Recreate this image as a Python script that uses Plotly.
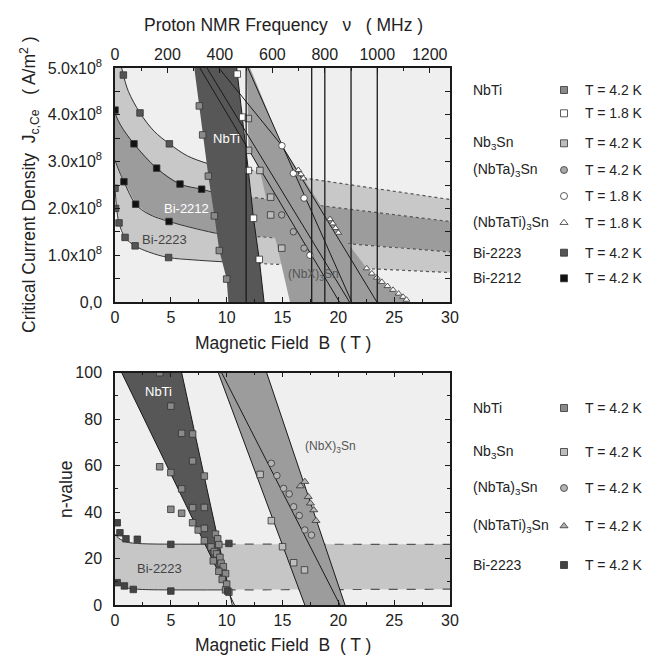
import plotly.graph_objects as go

W, H = 649, 657
JS = 1e8            # J values below are in units of 1e8 A/m^2
GAMMA = 42.577      # proton NMR MHz per tesla
FONT = "Liberation Sans, Arial, sans-serif"

# ---------------- Top panel: critical current density ----------------
# Bi tape boundary curves (solid part) and the far end of their dotted extension
c1_B = [0.6, 0.75, 1.2, 2.24, 3.5, 4.87, 6.5, 8.4]
c1_J = [5.0, 4.85, 4.5, 4.04, 3.65, 3.38, 3.12, 2.95]
c1_end = 2.19
c2_B = [0.0, 0.5, 1.7, 3.73, 5.82, 7.76, 8.8]
c2_J = [4.03, 3.78, 3.38, 2.86, 2.52, 2.41, 2.34]
c2_end = 1.72
c3_B = [0.0, 0.4, 0.8, 1.85, 3.0, 4.84, 7.0, 9.0]
c3_J = [3.03, 2.78, 2.57, 2.09, 1.88, 1.72, 1.58, 1.47]
c3_end = 1.07
c4_B = [0.0, 0.15, 0.36, 0.9, 1.8, 3.0, 4.8, 7.0, 9.6]
c4_J = [2.46, 2.0, 1.69, 1.38, 1.2, 1.07, 0.95, 0.9, 0.86]
c4_end = 0.63
B_MAX = 30

# NbTi band edges
nbti_left_B = [7.1, 7.55, 7.85, 8.36, 8.9, 9.34, 10.0, 10.15]
nbti_left_J = [5.0, 4.19, 3.57, 2.69, 1.84, 1.1, 0.49, 0.0]
nbti_right_B = [10.9, 11.43, 11.94, 12.4, 12.92, 13.35]
nbti_right_J = [5.0, 3.95, 2.81, 1.79, 0.91, 0.0]

# (NbX)3Sn band edges
nbx_left_B = [11.8, 11.95, 13.0, 15.67]
nbx_left_J = [5.0, 3.3, 2.78, 0.0]
nbx_right_B = [12.1, 14.95, 16.42, 19.25, 22.54, 24.4, 26.1, 26.3]
nbx_right_J = [5.0, 3.34, 2.82, 1.77, 0.72, 0.34, 0.05, 0.0]

# fit lines (B, J)
fit_lines = [
    ([7.6, 20.1], [5.0, 0.0]),
    ([8.24, 21.0], [5.0, 0.0]),
    ([9.3, 14.95, 23.45], [5.0, 3.34, 0.0]),
    ([11.9, 21.2], [5.0, 0.0]),
]

# NMR magnet frequencies (MHz)
nmr_freqs = [500, 750, 800, 900, 1000]

# measured points
nbti42_B = [7.55, 7.85, 8.36, 8.9, 9.34, 10.0]
nbti42_J = [4.19, 3.57, 2.69, 1.84, 1.1, 0.49]
nbti18_B = [10.95, 11.43, 11.94, 12.4, 12.92]
nbti18_J = [4.87, 3.95, 2.81, 1.79, 0.91]
nb3sn42_B = [11.94, 11.96, 12.98, 13.94, 13.94, 14.93]
nb3sn42_J = [3.92, 3.24, 2.81, 2.24, 1.86, 1.15]
nbta42_B = [14.93, 15.97, 16.93]
nbta42_J = [1.86, 1.5, 1.15]
nbta18_B = [14.95, 15.97, 16.93, 17.46]
nbta18_J = [3.34, 2.75, 2.22, 1.0]
nbtati18_B = [16.42, 16.65, 16.87, 19.25, 19.5, 19.75, 20.0, 22.54, 23.0, 23.45,
              23.9, 24.4, 24.9, 25.4, 25.8, 26.1]
nbtati18_J = [2.82, 2.73, 2.64, 1.77, 1.68, 1.58, 1.48, 0.72, 0.61, 0.52,
              0.43, 0.34, 0.26, 0.18, 0.11, 0.05]
bi2223_B = [0.75, 2.24, 4.87, 0.0, 0.05, 0.36, 0.9, 1.8, 4.8]
bi2223_J = [4.85, 4.04, 3.38, 2.43, 2.0, 1.69, 1.38, 1.2, 0.95]
bi2212_B = [0.0, 1.7, 3.73, 5.82, 7.76, 0.8, 1.85, 4.84]
bi2212_J = [4.1, 3.38, 2.86, 2.52, 2.41, 2.57, 2.09, 1.72]

# ---------------- Bottom panel: n-value ----------------
n_nbti_band_B = [0.6, 5.97, 10.34]
n_nbti_band_n = [100, 100, 3.6]
n_nbti_edges = [([0.6, 10.7], [100, 0]), ([5.97, 10.5], [100, 0])]
n_nbx_band_B = [9.25, 13.58, 20.6, 17.0]
n_nbx_band_n = [100, 100, 0, 0]
n_nbx_lines = [([9.25, 17.0], [100, 0]), ([9.55, 20.15], [100, 0]), ([13.58, 20.6], [100, 0])]
n_bi_B = [0.0, 0.3, 0.7, 1.2, 2.0, 3.0, 5.0, 10.0]
n_bi_upper = [30.5, 28.9, 27.7, 26.9, 26.5, 26.3, 26.2, 26.2]
n_bi_lower = [10.0, 8.9, 7.9, 7.2, 6.8, 6.6, 6.5, 6.5]
n_bi_upper_end = 26.1
n_bi_lower_end = 6.8

nn_nbti_B = [4.0, 5.0, 5.97, 6.95, 6.95, 5.97, 5.0, 4.0, 5.0, 5.97, 6.95, 6.95, 7.45,
             8.0, 8.0, 8.0, 8.0, 9.0, 9.2, 9.3, 8.6, 8.9, 9.1, 9.4, 8.8, 9.5, 9.7,
             9.3, 9.9, 9.6, 10.0, 9.9, 10.2]
nn_nbti_n = [100, 85.6, 73.9, 73.6, 62, 50, 57, 59.5, 41.2, 39.5, 41.9, 35.4, 32.3,
             55.5, 42, 33, 27.7, 30.5, 28.5, 26, 25, 23, 22, 20.5, 19, 18, 16.5,
             14.5, 13.5, 11, 9, 6.5, 5.5]
nn_nb3sn_B = [13.0, 14.0, 15.0, 16.0, 16.97]
nn_nb3sn_n = [56.2, 36.3, 25.1, 18.2, 15.1]
nn_nbta_B = [14.0, 14.5, 15.1, 15.6, 16.0, 16.5, 17.0, 17.6]
nn_nbta_n = [61, 55.7, 50.2, 47.8, 42.3, 38.5, 32.3, 30.1]
nn_nbtati_B = [16.6, 17.0, 17.3, 17.5, 17.8, 18.0]
nn_nbtati_n = [51.2, 53.1, 46.6, 43.8, 40.9, 36.3]
nn_bi_B = [0.2, 0.44, 0.98, 2.0, 5.0, 10.2, 0.2, 0.84, 1.64, 5.0, 10.1]
nn_bi_n = [35.4, 31.1, 28.5, 28.3, 26.1, 26.5, 9.6, 8.2, 6.7, 6.0, 6.0]

# legend entries
legend_top = [
    ("NbTi", "square", "#8a8a8a", "T = 4.2 K"),
    ("", "square", "#ffffff", "T = 1.8 K"),
    ("Nb<sub>3</sub>Sn", "square", "#bdbdbd", "T = 4.2 K"),
    ("(NbTa)<sub>3</sub>Sn", "circle", "#a8a8a8", "T = 4.2 K"),
    ("", "circle", "#ffffff", "T = 1.8 K"),
    ("(NbTaTi)<sub>3</sub>Sn", "triangle-up", "#ffffff", "T = 1.8 K"),
    ("Bi-2223", "square", "#555555", "T = 4.2 K"),
    ("Bi-2212", "square", "#111111", "T = 4.2 K"),
]
legend_bottom = [
    ("NbTi", "square", "#8a8a8a", "T = 4.2 K"),
    ("Nb<sub>3</sub>Sn", "square", "#bdbdbd", "T = 4.2 K"),
    ("(NbTa)<sub>3</sub>Sn", "circle", "#b4b4b4", "T = 4.2 K"),
    ("(NbTaTi)<sub>3</sub>Sn", "triangle-up", "#b4b4b4", "T = 4.2 K"),
    ("Bi-2223", "square", "#444444", "T = 4.2 K"),
]

# ---------------- layout geometry (pixels) ----------------
PL, PR = 115, 450
T_TOP, T_BOT = 68, 302
B_TOP, B_BOT = 372.7, 605
LEG_TOP_Y = [90, 113.3, 143.3, 170, 196, 222.7, 252.7, 278.3]
LEG_BOT_Y = [408, 452, 488, 526, 565]
LEG_LABEL_X, LEG_MARK_X, LEG_TEXT_X = 471, 564, 583


def px(x):
    return x / W


def py(y):
    return 1 - y / H


BG = "#efefef"
LIGHT = "#c8c8c8"
MID = "#9c9c9c"
DARK = "#575757"
INK = "#1a1a1a"


def mk(symbol, fill, size=6.5):
    return dict(symbol=symbol, color=fill, size=size, line=dict(color="#333333", width=0.8))


fig = go.Figure()


def add(x, y, xa="x", ya="y", **kw):
    fig.add_trace(go.Scatter(x=x, y=y, xaxis=xa, yaxis=ya, showlegend=False,
                             hoverinfo="skip", **kw))


def poly(x, y, color, xa="x", ya="y"):
    add(x, y, xa, ya, mode="lines", fill="toself", fillcolor=color, line=dict(width=0))


def sc(vals):
    return [v * JS for v in vals]


# ----- top panel -----
curves = [(c1_B, c1_J, c1_end), (c2_B, c2_J, c2_end), (c3_B, c3_J, c3_end), (c4_B, c4_J, c4_end)]
full = [(bb + [B_MAX], jj + [end]) for bb, jj, end in curves]

poly([0] + full[0][0] + full[1][0][::-1], sc([5.0] + full[0][1] + full[1][1][::-1]), LIGHT)
poly(full[1][0] + full[2][0][::-1], sc(full[1][1] + full[2][1][::-1]), MID)
poly(full[2][0] + full[3][0][::-1], sc(full[2][1] + full[3][1][::-1]), LIGHT)

for bb, jj, end in curves:
    add(bb, sc(jj), mode="lines", line=dict(color="#333333", width=1), line_shape="spline")
    add([bb[-1], B_MAX], sc([jj[-1], end]), mode="lines",
        line=dict(color="#555555", width=1.2, dash="dot"))

poly(nbti_left_B + nbti_right_B[::-1], sc(nbti_left_J + nbti_right_J[::-1]), DARK)
poly(nbx_left_B + nbx_right_B[::-1], sc(nbx_left_J + nbx_right_J[::-1]), MID)

for bb, jj in fit_lines:
    add(bb, sc(jj), mode="lines", line=dict(color=INK, width=1))
add(nbti_right_B, sc(nbti_right_J), mode="lines", line=dict(color=INK, width=1))

for f in nmr_freqs:
    add([f, f], [0, 5.0 * JS], xa="x2", mode="lines", line=dict(color=INK, width=1.3))

add(nbti42_B, sc(nbti42_J), mode="markers", marker=mk("square", "#8a8a8a"))
add(nbti18_B, sc(nbti18_J), mode="markers", marker=mk("square", "#ffffff"))
add(nb3sn42_B, sc(nb3sn42_J), mode="markers", marker=mk("square", "#bdbdbd"))
add(nbta42_B, sc(nbta42_J), mode="markers", marker=mk("circle", "#a8a8a8"))
add(nbta18_B, sc(nbta18_J), mode="markers", marker=mk("circle", "#ffffff"))
add(nbtati18_B, sc(nbtati18_J), mode="markers", marker=mk("triangle-up", "#ffffff", 6))
add(bi2223_B, sc(bi2223_J), mode="markers", marker=mk("square", "#555555"))
add(bi2212_B, sc(bi2212_J), mode="markers", marker=mk("square", "#111111"))

# ----- bottom panel -----
poly(n_bi_B + [B_MAX, B_MAX] + n_bi_B[::-1],
     n_bi_upper + [n_bi_upper_end, n_bi_lower_end] + n_bi_lower[::-1], "#c6c6c6", "x3", "y2")
for nv, end in [(n_bi_upper, n_bi_upper_end), (n_bi_lower, n_bi_lower_end)]:
    add(n_bi_B, nv, "x3", "y2", mode="lines", line=dict(color="#333333", width=1), line_shape="spline")
    add([n_bi_B[-1], B_MAX], [nv[-1], end], "x3", "y2", mode="lines",
        line=dict(color="#555555", width=1.2, dash="dash"))
poly(n_nbti_band_B, n_nbti_band_n, DARK, "x3", "y2")
poly(n_nbx_band_B, n_nbx_band_n, MID, "x3", "y2")
for bb, nv in n_nbti_edges + n_nbx_lines:
    add(bb, nv, "x3", "y2", mode="lines", line=dict(color=INK, width=1))

add(nn_nbti_B, nn_nbti_n, "x3", "y2", mode="markers", marker=mk("square", "#8a8a8a"))
add(nn_nb3sn_B, nn_nb3sn_n, "x3", "y2", mode="markers", marker=mk("square", "#bdbdbd"))
add(nn_nbta_B, nn_nbta_n, "x3", "y2", mode="markers", marker=mk("circle", "#b4b4b4"))
add(nn_nbtati_B, nn_nbtati_n, "x3", "y2", mode="markers", marker=mk("triangle-up", "#b4b4b4", 7))
add(nn_bi_B, nn_bi_n, "x3", "y2", mode="markers", marker=mk("square", "#444444"))

# ----- legend symbols (overlay axes in pixel units) -----
for rows, ys in [(legend_top, LEG_TOP_Y), (legend_bottom, LEG_BOT_Y)]:
    for (lab, sym, col, txt), yy in zip(rows, ys):
        add([LEG_MARK_X], [yy], "x4", "y3", mode="markers", marker=mk(sym, col, 7))

ann = []
for rows, ys in [(legend_top, LEG_TOP_Y), (legend_bottom, LEG_BOT_Y)]:
    for (lab, sym, col, txt), yy in zip(rows, ys):
        if lab:
            ann.append(dict(x=px(LEG_LABEL_X), y=py(yy), text=lab, xanchor="left"))
        ann.append(dict(x=px(LEG_TEXT_X), y=py(yy), text=txt, xanchor="left"))
for a in ann:
    a.update(xref="paper", yref="paper", showarrow=False, yanchor="middle",
             font=dict(family=FONT, size=14, color="#222222"))

titles = [
    dict(x=px(283), y=py(25), text="Proton NMR Frequency   \u03bd   ( MHz )"),
    dict(x=px(283), y=py(343), text="Magnetic Field  B  ( T )"),
    dict(x=px(283), y=py(645), text="Magnetic Field  B  ( T )"),
    dict(x=px(29), y=py(185), text="Critical Current Density  J<sub>c,Ce</sub>   ( A/m<sup>2</sup> )",
         textangle=-90),
    dict(x=px(66), y=py(490), text="n-value", textangle=-90),
]
for a in titles:
    a.update(xref="paper", yref="paper", showarrow=False, xanchor="center", yanchor="middle",
             font=dict(family=FONT, size=17.5, color="#222222"))
    ann.append(a)

inplot = [
    dict(x=9.95, y=3.5 * JS, text="NbTi", xref="x", yref="y", color="#ffffff", size=13),
    dict(x=6.4, y=2.0 * JS, text="Bi-2212", xref="x", yref="y", color="#ffffff", size=13),
    dict(x=4.4, y=1.34 * JS, text="Bi-2223", xref="x", yref="y", color="#444444", size=13),
    dict(x=17.8, y=0.58 * JS, text="(NbX)<sub>3</sub>Sn", xref="x", yref="y", color="#555555", size=12),
    dict(x=3.9, y=92, text="NbTi", xref="x3", yref="y2", color="#ffffff", size=13),
    dict(x=19.3, y=68, text="(NbX)<sub>3</sub>Sn", xref="x3", yref="y2", color="#555555", size=12),
    dict(x=4.0, y=15.8, text="Bi-2223", xref="x3", yref="y2", color="#444444", size=13),
]
for a in inplot:
    c, s = a.pop("color"), a.pop("size")
    a.update(showarrow=False, font=dict(family=FONT, size=s, color=c))
    ann.append(a)

axis_common = dict(showgrid=False, zeroline=False, showline=True, linecolor=INK,
                   linewidth=1.5, ticks="inside", ticklen=5, tickcolor=INK,
                   tickfont=dict(family=FONT, size=16, color="#222222"))
xdom = [px(PL), px(PR)]

fig.update_layout(
    width=W, height=H, margin=dict(l=0, r=0, t=0, b=0, autoexpand=False),
    paper_bgcolor="white", plot_bgcolor="rgba(0,0,0,0)",
    showlegend=False, annotations=ann,
    shapes=[
        dict(type="rect", xref="paper", yref="paper", x0=px(PL), x1=px(PR), y0=py(T_BOT), y1=py(T_TOP),
             fillcolor=BG, line=dict(width=0), layer="below"),
        dict(type="rect", xref="paper", yref="paper", x0=px(PL), x1=px(PR), y0=py(B_BOT), y1=py(B_TOP),
             fillcolor=BG, line=dict(width=0), layer="below"),
    ],
    xaxis=dict(domain=xdom, anchor="y", range=[0, B_MAX], dtick=5, mirror=True,
               minor=dict(ticks="inside", dtick=2.5, ticklen=3, tickcolor=INK), **axis_common),
    xaxis2=dict(domain=xdom, anchor="y", overlaying="x", side="top", range=[0, B_MAX * GAMMA],
                dtick=200, minor=dict(ticks="inside", dtick=100, ticklen=3, tickcolor=INK),
                **axis_common),
    yaxis=dict(domain=[py(T_BOT), py(T_TOP)], anchor="x", range=[0, 5 * JS], mirror="allticks",
               tickvals=[i * JS for i in range(6)],
               ticktext=["0,0"] + ["%d.0x10<sup>8</sup>" % i for i in range(1, 6)],
               minor=dict(ticks="inside", dtick=0.5 * JS, ticklen=3, tickcolor=INK),
               ticklabelstandoff=8, **axis_common),
    xaxis3=dict(domain=xdom, anchor="y2", range=[0, B_MAX], dtick=5, mirror="allticks",
                minor=dict(ticks="inside", dtick=2.5, ticklen=3, tickcolor=INK), **axis_common),
    yaxis2=dict(domain=[py(B_BOT), py(B_TOP)], anchor="x3", range=[0, 100], dtick=20, mirror="allticks",
                minor=dict(ticks="inside", dtick=10, ticklen=3, tickcolor=INK),
                ticklabelstandoff=8, **axis_common),
    xaxis4=dict(domain=[0, 1], anchor="y3", range=[0, W], visible=False, fixedrange=True),
    yaxis3=dict(domain=[0, 1], anchor="x4", range=[H, 0], visible=False, fixedrange=True),
)

fig.write_html("out.html", config={"displayModeBar": False},
               post_script="document.body.style.margin='0';")
